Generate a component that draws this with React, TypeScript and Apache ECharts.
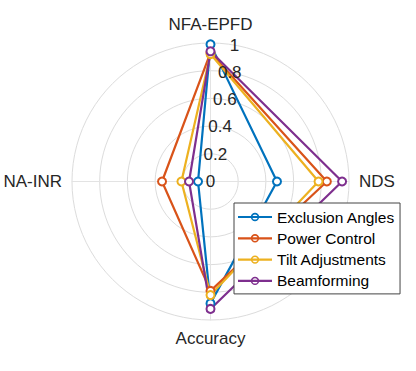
import React, { useEffect, useRef } from "react";
import * as echarts from "echarts";

const indicators = ["NFA-EPFD", "NA-INR", "Accuracy", "NDS"];
const seriesNames = ["Exclusion Angles", "Power Control", "Tilt Adjustments", "Beamforming"];
const exclusionAngles = [0.99, 0.09, 0.88, 0.48];
const powerControl = [0.93, 0.35, 0.79, 0.84];
const tiltAdjustments = [0.92, 0.21, 0.82, 0.78];
const beamforming = [0.94, 0.155, 0.92, 0.95];
const colors = ["#0072BD", "#D95319", "#EDB120", "#7E2F8E"];
const radiusMax = 1;
const radiusStep = 0.2;

const legendIcon =
  "path://M0,5.9H34V8.1H0Z M21.2,7A4.2,4.2 0 1 1 12.8,7A4.2,4.2 0 1 1 21.2,7Z M19.6,7A2.6,2.6 0 1 0 14.4,7A2.6,2.6 0 1 0 19.6,7Z";

export default function App() {
  const ref = useRef<HTMLDivElement>(null);
  useEffect(() => {
    if (!ref.current) return;
    const chart = echarts.init(ref.current, undefined, { renderer: "svg" });
    const values = [exclusionAngles, powerControl, tiltAdjustments, beamforming];
    const center = [210.5, 181.5];
    const radius = 138.5;
    const textColor = "#262626";
    const font = "'Liberation Sans', Arial, Helvetica, sans-serif";
    chart.setOption({
      animation: false,
      color: colors,
      textStyle: { fontFamily: font },
      radar: {
        center,
        radius,
        startAngle: 90,
        shape: "circle",
        splitNumber: Math.round(radiusMax / radiusStep),
        indicator: indicators.map((name) => ({ name, min: 0, max: radiusMax })),
        axisName: { color: textColor, fontSize: 17, fontFamily: font },
        nameGap: 10,
        axisLine: { lineStyle: { color: "#e3e3e3", width: 1 } },
        splitLine: { lineStyle: { color: "#dcdcdc", width: 1 } },
        splitArea: { show: false },
        axisLabel: { show: false },
        axisTick: { show: false },
      },
      polar: { center, radius },
      angleAxis: { type: "value", min: 0, max: 360, startAngle: 80, show: false },
      radiusAxis: {
        type: "value",
        min: 0,
        max: radiusMax,
        interval: radiusStep,
        axisLine: { show: false },
        axisTick: { show: false },
        splitLine: { show: false },
        axisLabel: {
          show: true,
          margin: 0,
          align: "center",
          verticalAlign: "middle",
          color: textColor,
          fontSize: 17,
          fontFamily: font,
          formatter: (v: number) => String(Math.round(v * 10) / 10),
        },
        z: 10,
      },
      legend: {
        orient: "vertical",
        left: 234,
        top: 203,
        padding: [6, 5, 5, 4],
        itemWidth: 34,
        itemHeight: 14,
        itemGap: 5.3,
        icon: legendIcon,
        itemStyle: { borderWidth: 0 },
        backgroundColor: "#ffffff",
        borderColor: "#444444",
        borderWidth: 1,
        borderRadius: 0,
        textStyle: { color: "#000000", fontSize: 15.5, fontFamily: font },
        data: seriesNames,
      },
      series: [
        {
          type: "radar",
          symbol: "emptyCircle",
          symbolSize: 8,
          z: 3,
          data: seriesNames.map((name, i) => ({
            name,
            value: values[i],
            lineStyle: { color: colors[i], width: 2.2 },
            itemStyle: { color: colors[i], borderColor: colors[i], borderWidth: 1.7 },
          })),
        },
      ],
    });
    return () => chart.dispose();
  }, []);
  return (
    <div
      ref={ref}
      style={{ position: "fixed", left: 0, top: 0, width: 416, height: 371, background: "#fff" }}
    />
  );
}
